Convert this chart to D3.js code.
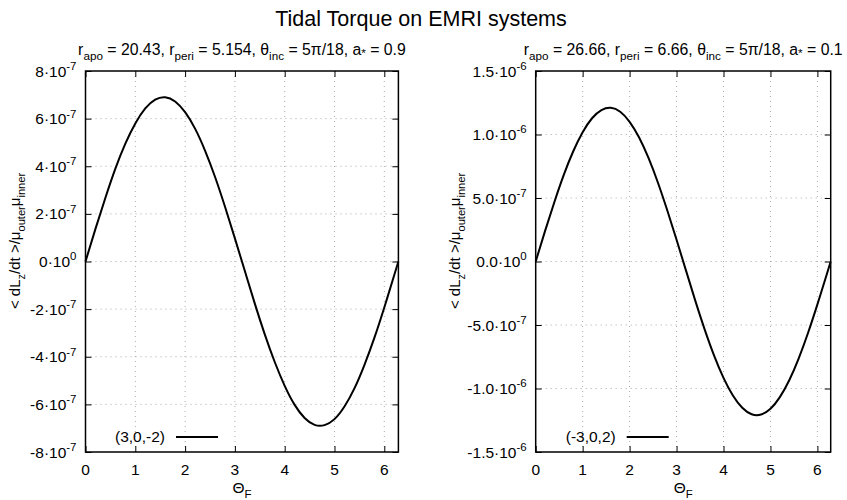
<!DOCTYPE html>
<html><head><meta charset="utf-8">
<script src="https://cdn.jsdelivr.net/npm/d3@7"></script>
<style>body{margin:0;background:#fff}svg{display:block;font-family:"Liberation Sans",Arial,Helvetica,sans-serif}</style>
</head><body><svg id="c" width="847" height="500"></svg>
<script>
// ---- data ----
const theta = [0,0.2,0.4,0.6,0.8,1.0,1.2,1.4,1.6,1.8,2.0,2.2,2.4,2.6,2.8,3.0,3.2,3.4,3.6,3.8,4.0,4.2,4.4,4.6,4.8,5.0,5.2,5.4,5.6,5.8,6.0,6.2,6.283];
// left panel values in units of 1e-7
const leftVals = [0,1.37,2.68,3.90,4.95,5.80,6.43,6.80,6.90,6.72,6.27,5.58,4.66,3.56,2.31,0.97,-0.40,-1.77,-3.06,-4.22,-5.22,-6.02,-6.57,-6.86,-6.87,-6.62,-6.09,-5.33,-4.35,-3.21,-1.93,-0.57,0];
// right panel values in units of 1e-7
const rightVals = [0,2.41,4.71,6.84,8.68,10.18,11.28,11.92,12.10,11.79,11.00,9.78,8.17,6.24,4.05,1.71,-0.70,-3.10,-5.36,-7.41,-9.16,-10.55,-11.52,-12.03,-12.05,-11.60,-10.68,-9.35,-7.64,-5.63,-3.38,-1.00,0];
const xTicks = [0,1,2,3,4,5,6];
const leftYTicks = [-8,-6,-4,-2,0,2,4,6,8];
const leftYLabels = [["-8","-7"],["-6","-7"],["-4","-7"],["-2","-7"],["0","0"],["2","-7"],["4","-7"],["6","-7"],["8","-7"]];
const rightYTicks = [-15,-10,-5,0,5,10,15];
const rightYLabels = [["-1.5","-6"],["-1.0","-6"],["-5.0","-7"],["0.0","0"],["5.0","-7"],["1.0","-6"],["1.5","-6"]];
const legendLeft = "(3,0,-2)";
const legendRight = "(-3,0,2)";
const titleMain = "Tidal Torque on EMRI systems";
const titleLeft = [["r",""],["apo","sub"],[" = 20.43, r",""],["peri","sub"],[" = 5.154, θ",""],["inc","sub"],[" = 5π/18, a",""],["*","star"],[" = 0.9",""]];
const titleRight = [["r",""],["apo","sub"],[" = 26.66, r",""],["peri","sub"],[" = 6.66, θ",""],["inc","sub"],[" = 5π/18, a",""],["*","star"],[" = 0.1",""]];
const yLabel = [["< dL",""],["z","sub"],["/dt >/μ",""],["outer","sub"],["μ",""],["inner","sub"]];
const xLabel = [["Θ",""],["F","sub"]];

const svg = d3.select("#c");
const FS = 15.5;

function rich(g, segs, size){
  const t = g.append("text").attr("font-size", size);
  let off = 0;
  segs.forEach(([s,k])=>{
    let target = k==="sub" ? size*0.3 : k==="sup" ? -size*0.42 : k==="star" ? size*0.12 : 0;
    t.append("tspan").attr("dy", target-off).attr("font-size", k? size*0.74 : size).text(s);
    off = target;
  });
  return t;
}

svg.append("text").attr("x",421).attr("y",26).attr("text-anchor","middle").attr("font-size",21.5).text(titleMain);

function panel(x0,x1,vals,yt,yl,leg,title,legTextEnd,ylabX){
  const xs = d3.scaleLinear().domain([0,2*Math.PI]).range([x0,x1]);
  const ymax = yt[yt.length-1];
  const ys = d3.scaleLinear().domain([-ymax,ymax]).range([452,71]);
  const g = svg.append("g");
  // grid
  g.selectAll(".gx").data(xTicks.filter(d=>d>0)).join("line")
   .attr("x1",d=>xs(d)).attr("x2",d=>xs(d)).attr("y1",71).attr("y2",452)
   .attr("stroke","#aaa").attr("stroke-width",1).attr("stroke-dasharray","1,4");
  g.selectAll(".gy").data(yt.filter(d=>d>-ymax&&d<ymax)).join("line")
   .attr("y1",d=>ys(d)).attr("y2",d=>ys(d)).attr("x1",x0).attr("x2",x1)
   .attr("stroke","#aaa").attr("stroke-width",1).attr("stroke-dasharray","1,4");
  // axes with inward ticks
  const ax = g.append("g").attr("transform",`translate(0,452)`).call(d3.axisBottom(xs).tickValues(xTicks).tickSize(-6).tickFormat(""));
  const axT = g.append("g").attr("transform",`translate(0,71)`).call(d3.axisTop(xs).tickValues(xTicks).tickSize(-6).tickFormat(""));
  const ay = g.append("g").attr("transform",`translate(${x0},0)`).call(d3.axisLeft(ys).tickValues(yt).tickSize(-6).tickFormat(""));
  const ayR = g.append("g").attr("transform",`translate(${x1},0)`).call(d3.axisRight(ys).tickValues(yt).tickSize(-6).tickFormat(""));
  [ax,axT,ay,ayR].forEach(a=>{a.select(".domain").remove(); a.selectAll("line").attr("stroke","#000");});
  // x tick labels
  g.selectAll(".xl").data(xTicks).join("text")
   .attr("x",d=>xs(d)).attr("y",474.5).attr("text-anchor","middle").attr("font-size",FS).text(d=>d3.format("d")(d));
  // y labels
  yt.forEach((v,i)=>{
    const t = rich(g, [[yl[i][0]+"·10",""],[yl[i][1],"sup"]], FS);
    t.attr("x",x0-9).attr("y",ys(v)+5.5).attr("text-anchor","end");
  });
  // frame
  g.append("rect").attr("x",x0).attr("y",71).attr("width",x1-x0).attr("height",452-71).attr("fill","none").attr("stroke","#000").attr("stroke-width",1.5);
  // curve
  const line = d3.line().x((d,i)=>xs(theta[i])).y(d=>ys(d)).curve(d3.curveNatural);
  g.append("path").datum(vals).attr("d",line).attr("fill","none").attr("stroke","#000").attr("stroke-width",2);
  // titles
  const tt = rich(g, title, 15.8);
  tt.attr("x",(x0+x1)/2).attr("y",55).attr("text-anchor","middle");
  const xl = rich(g, xLabel, FS);
  xl.attr("x",(x0+x1)/2).attr("y",493).attr("text-anchor","middle");
  const yL = rich(g, yLabel, 15);
  yL.attr("text-anchor","middle").attr("transform",`translate(${ylabX},241) rotate(-90)`);
  // legend
  g.append("text").attr("x",legTextEnd).attr("y",442).attr("text-anchor","end").attr("font-size",FS).text(leg);
  g.append("line").attr("x1",legTextEnd+11).attr("x2",legTextEnd+53).attr("y1",437).attr("y2",437).attr("stroke","#000").attr("stroke-width",2);
}
panel(85.5,398.4,leftVals,leftYTicks,leftYLabels,legendLeft,titleLeft,165,20);
panel(535.7,830.7,rightVals,rightYTicks,rightYLabels,legendRight,titleRight,615.7,460);
</script></body></html>
